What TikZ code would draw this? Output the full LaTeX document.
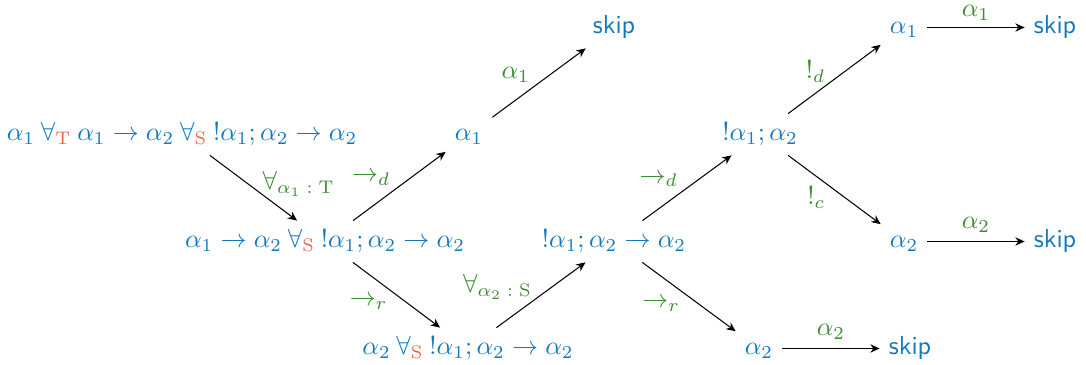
\documentclass[tikz,border=0pt]{standalone}
\usepackage{amsmath}
\usetikzlibrary{arrows.meta}
\definecolor{nblue}{RGB}{20,120,190}
\definecolor{lgreen}{RGB}{60,140,50}
\definecolor{tred}{RGB}{235,100,70}
\newcommand{\fa}[1]{\mathbin{\forall_{\textcolor{tred}{\mathrm{#1}}}}}
\newcommand{\bang}{\mathord{!}}
\begin{document}
\begin{tikzpicture}[x=0.3846pt,y=-0.3846pt,
  st/.style={text=nblue, anchor=base, text height=7pt, text depth=2pt},
  lbl/.style={text=lgreen},
  arr/.style={-{Stealth[length=3.6pt,width=3.2pt]}, line width=0.4pt}]
\useasboundingbox (0,0) rectangle (1086,365);
\node[st] (A) at (182,141) {$\alpha_1 \fa{T} \alpha_1 \to \alpha_2 \fa{S} \bang\alpha_1;\alpha_2 \to \alpha_2$};
\node[st] (B) at (325,248) {$\alpha_1 \to \alpha_2 \fa{S} \bang\alpha_1;\alpha_2 \to \alpha_2$};
\node[st] (C) at (469,141) {$\alpha_1$};
\node[st] (D) at (614,34) {\textsf{skip}};
\node[st] (E) at (468,355) {$\alpha_2 \fa{S} \bang\alpha_1;\alpha_2 \to \alpha_2$};
\node[st] (F) at (614,248) {$\bang\alpha_1;\alpha_2 \to \alpha_2$};
\node[st] (G) at (760,141) {$\bang\alpha_1;\alpha_2$};
\node[st] (H) at (904,34) {$\alpha_1$};
\node[st] (I) at (1055,34) {\textsf{skip}};
\node[st] (J) at (904,248) {$\alpha_2$};
\node[st] (K) at (1055,248) {\textsf{skip}};
\node[st] (L) at (759,355) {$\alpha_2$};
\node[st] (M) at (910,355) {\textsf{skip}};

\draw[arr] (A) -- node[lbl, anchor=west, yshift=1.5pt] {$\forall_{\alpha_1 \; : \; \mathrm{T}}$} (B);
\draw[arr] (B) -- node[lbl, anchor=east, yshift=3pt] {$\to_d$} (C);
\draw[arr] (B) -- node[lbl, anchor=east, yshift=-3pt] {$\to_r$} (E);
\draw[arr] (C) -- node[lbl, anchor=east, yshift=3pt] {$\alpha_1$} (D);
\draw[arr] (E) -- node[lbl, anchor=east, yshift=3pt] {$\forall_{\alpha_2 \; : \; \mathrm{S}}$} (F);
\draw[arr] (F) -- node[lbl, anchor=east, yshift=3pt] {$\to_d$} (G);
\draw[arr] (F) -- node[lbl, anchor=east, yshift=-3pt] {$\to_r$} (L);
\draw[arr] (G) -- node[lbl, anchor=east, yshift=3pt] {$\bang_d$} (H);
\draw[arr] (G) -- node[lbl, anchor=east, yshift=-3pt] {$\bang_c$} (J);
\draw[arr] (H) -- node[lbl, above, inner sep=2.4pt] {$\alpha_1$} (I);
\draw[arr] (J) -- node[lbl, above] {$\alpha_2$} (K);
\draw[arr] (L) -- node[lbl, above] {$\alpha_2$} (M);
\end{tikzpicture}
\end{document}
